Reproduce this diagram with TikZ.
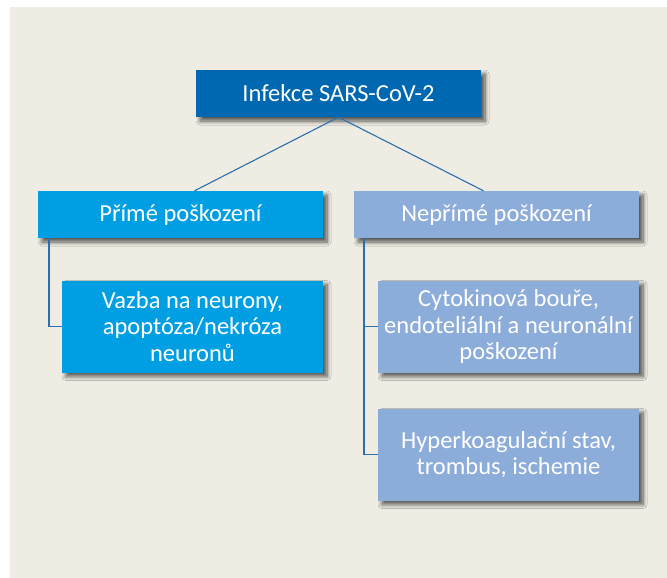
\documentclass[tikz,border=0pt]{standalone}
\usepackage{fontspec}
\setmainfont{Carlito}
\usetikzlibrary{shadows.blur}
\definecolor{bgbeige}{HTML}{EFECE4}
\definecolor{topblue}{HTML}{0067B1}
\definecolor{cyanblue}{HTML}{009FE3}
\definecolor{lightblue}{HTML}{8CACDA}
\definecolor{lineblue}{HTML}{2A6FB0}
\tikzset{
  box/.style={draw=none, text=white, align=center, inner sep=0pt,
    font=\fontsize{24.5}{26.7}\selectfont,
    blur shadow={shadow xshift=4pt, shadow yshift=-4pt, shadow blur steps=8, shadow blur radius=4pt, shadow opacity=65}},
  conn/.style={draw=lineblue, line width=1.1pt}
}
\begin{document}
\begin{tikzpicture}[x=1pt, y=-1pt]
\useasboundingbox (0,0) rectangle (667,578);
\fill[white] (0,0) rectangle (667,578);
\fill[bgbeige] (10,7) rectangle (667,578);
% boxes
\node[box, fill=topblue, minimum width=285pt, minimum height=47pt] (top) at (338.5,93.5) {Infekce SARS-CoV-2};
\node[box, fill=cyanblue, minimum width=285pt, minimum height=47pt] (prime) at (180.5,214.5) {Přímé poškození};
\node[box, fill=lightblue, minimum width=285pt, minimum height=47pt] (neprime) at (496.5,214.5) {Nepřímé poškození};
\node[box, fill=cyanblue, minimum width=261pt, minimum height=92pt] (vazba) at (192.5,326.5) {Vazba na neurony,\\apoptóza/nekróza\\neuronů};
\node[box, fill=lightblue, minimum width=261pt, minimum height=92pt] (cyto) at (508.5,326.5) {Cytokinová bouře,\\endoteliální a neuronální\\poškození};
\node[box, fill=lightblue, minimum width=261pt, minimum height=92pt] (hyper) at (508.5,454.5) {Hyperkoagulační stav,\\trombus, ischemie};
% connectors
\draw[conn] (top.south) -- ([xshift=14pt]prime.north);
\draw[conn] (top.south) -- ([xshift=-13pt]neprime.north);
\draw[conn] ([xshift=-131.5pt]prime.south) |- (vazba.west);
\draw[conn] ([xshift=-132.5pt]neprime.south) |- (cyto.west);
\draw[conn] ([xshift=-132.5pt]neprime.south) |- (hyper.west);
\end{tikzpicture}
\end{document}
